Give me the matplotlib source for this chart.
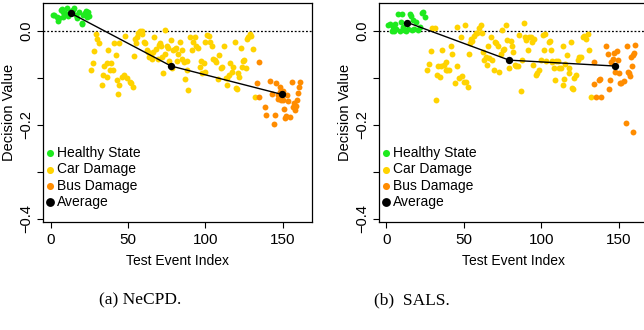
import matplotlib
matplotlib.use("Agg")
import matplotlib.pyplot as plt

# NeCPD panel (a)
necpd_healthy_x = [1.1, 2.2, 3.7, 4.7, 5.4, 6.7, 6.9, 7.5, 8, 9.1, 10.1, 11.2, 12.3, 13, 14, 14.9,
                   16.2, 17, 18.3, 19.9, 20.3, 20.9, 22, 22.7, 23.5, 24.2, 24.8]
necpd_healthy_y = [0.034, 0.033, 0.030, 0.022, 0.027, 0.045, 0.046, 0.040, 0.030, 0.038, 0.048, 0.032,
                   0.039, 0.043, 0.045, 0.048, 0.034, 0.027, 0.041, 0.016, 0.0155, 0.034, 0.039, 0.043,
                   0.030, 0.041, 0.032]
necpd_car_x = [26, 27, 28, 29, 30, 31, 33, 33.5, 34, 36, 36.5, 37, 38, 39, 40, 41, 42, 43, 43.6, 44, 44,
               46, 47, 48, 49, 51, 52, 53, 54, 54.4, 55, 56, 56.5, 57.6, 58.7, 59, 60, 60.6, 62, 63, 63.7,
               64.5, 65.4, 66, 67, 68, 69, 70, 70.6, 71.4, 72, 72.7, 73.8, 74, 75, 75.5, 76.6, 77.5, 78.6,
               79, 80, 80.7, 81.8, 82.5, 83.5, 84.6, 85, 86, 87, 87.8, 88, 89, 90, 91, 92, 93, 94, 95, 96.5,
               97, 98, 99, 99.7, 100, 101, 102.5, 103, 104, 105, 106, 107, 108, 109, 110, 111, 112, 113,
               113.7, 114, 115.5, 116, 117, 117.6, 119, 120, 120.7, 121, 122, 122.8, 123.5, 124, 125, 126,
               127, 127.8, 129, 129.3, 131, 132]
necpd_car_y = [-0.082, -0.069, -0.043, -0.007, -0.016, -0.025, -0.115, -0.094, -0.074, -0.097, -0.069,
               -0.040, -0.083, -0.069, -0.084, -0.025, -0.051, -0.104, -0.134, -0.115, -0.025, -0.097,
               -0.094, -0.011, -0.099, -0.108, -0.110, -0.120, -0.053, -0.018, -0.026, -0.012, -0.005,
               -0.001, -0.001, -0.007, -0.023, -0.025, -0.040, -0.044, -0.055, -0.053, -0.060, -0.044,
               -0.0135, -0.039, -0.060, -0.030, -0.025, -0.032, -0.056, -0.089, 0.002, -0.048, -0.033,
               -0.037, -0.063, -0.019, -0.079, -0.040, -0.039, -0.037, -0.063, -0.048, -0.023, -0.060,
               -0.040, -0.065, -0.103, -0.063, -0.083, -0.126, -0.012, -0.040, -0.023, -0.0135, -0.033,
               -0.037, -0.076, -0.063, -0.090, -0.069, -0.087, -0.023, -0.0085, -0.011, -0.023, -0.033,
               -0.060, -0.062, -0.065, -0.103, -0.051, -0.079, -0.076, -0.033, -0.101, -0.115, -0.101,
               -0.094, -0.069, -0.087, -0.076, -0.023, -0.122, -0.124, -0.090, -0.097, -0.037, -0.076,
               -0.063, -0.062, -0.079, -0.016, -0.012, -0.007, -0.011, -0.039, -0.141]
necpd_bus_x = [133.6, 135, 135, 138.6, 139, 142, 143, 144.4, 145, 146, 147, 147, 148, 148, 149, 149,
               150, 150, 151, 151.5, 152, 152.6, 153.7, 154.8, 156, 157, 157.3, 158, 158.6, 159, 160,
               160.8, 161]
necpd_bus_y = [-0.111, -0.065, -0.141, -0.162, -0.179, -0.106, -0.133, -0.198, -0.179, -0.111, -0.136,
               -0.145, -0.129, -0.120, -0.147, -0.140, -0.127, -0.147, -0.167, -0.186, -0.181, -0.136,
               -0.150, -0.184, -0.108, -0.161, -0.154, -0.168, -0.160, -0.147, -0.131, -0.120, -0.108]
necpd_avg_x = [13, 77.7, 149.6]
necpd_avg_y = [0.0376, -0.0745, -0.135]

# SALS panel (b)
sals_healthy_x = [1.3, 2.4, 3.4, 4.3, 5, 5.6, 6.5, 7.8, 8.6, 9.3, 9.9, 10.8, 11.4, 12.5, 14.2, 15, 15.7,
                  16.4, 17.2, 17.9, 19, 20.7, 21.6, 22.8, 23.7, 25]
sals_healthy_y = [0.013, 0.015, -0.001, 0.009, 0.001, 0.015, 0.0035, 0.036, 0.001, 0.020, 0.036, 0.009,
                  0.002, 0.001, 0.0035, 0.036, 0.032, 0.002, 0.023, 0.0035, 0.020, 0.002, 0.008, 0.039,
                  0.041, 0.030]
sals_car_x = [26.5, 27.2, 28.7, 29.7, 31.5, 32.3, 33, 33.6, 34.5, 35.1, 36.2, 37.3, 38.4, 38.8, 39.4,
              40.5, 41.6, 42.7, 44.4, 45.3, 45.9, 47, 48, 48.7, 50.2, 50.9, 51.7, 52.4, 53.4, 53.9, 54.5,
              55.6, 56.7, 57.8, 58.8, 59.9, 61, 61.6, 62.5, 63.1, 64.2, 65.3, 65.9, 66.4, 67.5, 68.5,
              69.6, 70.3, 71.1, 72, 72.8, 73.9, 75, 75.4, 76.1, 77.2, 78.2, 79.3, 80.4, 81, 81.9, 83.2,
              83.6, 84.7, 85.8, 86.9, 87.9, 89, 89.7, 90.5, 91.2, 92.2, 93.3, 94, 94.8, 95.5, 96.6, 97.6,
              98.7, 99.8, 100.9, 101.9, 102.6, 103.4, 105.2, 105.6, 106.3, 106.9, 107.3, 108.4, 109,
              109.5, 110.6, 111.6, 112.7, 113.8, 114.2, 114.9, 115.5, 116.4, 117.7, 118.1, 119.2, 119.8,
              120.7, 121.3, 122.4, 124.1, 124.6, 125.6, 127.2, 127.8, 128.9, 130, 131, 132.1]
sals_car_y = [-0.083, -0.070, -0.042, 0.006, 0.006, -0.147, -0.094, -0.074, -0.097, -0.074, -0.040,
              -0.072, -0.083, -0.067, -0.084, -0.083, -0.032, -0.048, -0.111, 0.008, -0.074, -0.099,
              -0.012, -0.096, -0.108, 0.013, -0.108, -0.120, -0.048, -0.026, -0.016, -0.021, -0.011,
              -0.005, -0.0035, 0.006, 0.013, -0.005, -0.044, -0.062, -0.056, -0.072, -0.032, -0.058,
              -0.0135, -0.062, -0.083, -0.023, -0.025, -0.032, -0.087, -0.048, 0.002, -0.040, -0.039,
              0.013, -0.019, -0.079, -0.021, -0.033, -0.044, -0.072, -0.074, -0.074, -0.009, -0.127,
              -0.062, 0.016, -0.012, -0.019, -0.040, -0.012, -0.0135, -0.023, -0.072, -0.016, -0.094,
              -0.090, -0.084, -0.062, -0.009, -0.040, -0.006, -0.063, -0.023, -0.021, -0.040, -0.065,
              -0.063, -0.079, -0.104, -0.063, -0.063, -0.079, -0.079, -0.115, -0.033, -0.103, -0.070,
              -0.051, -0.089, -0.079, -0.023, -0.122, -0.124, -0.101, -0.094, -0.062, -0.056, -0.056,
              -0.012, -0.011, -0.018, -0.006, -0.040, -0.141]
sals_bus_x = [134.3, 134.3, 135.3, 137.1, 137.9, 138.6, 141.8, 142.9, 144, 144.4, 145, 146.1, 147.2,
              147.8, 148.7, 149.4, 150.4, 151.1, 151.5, 153.7, 154.7, 155.2, 155.8, 156.5, 157.3, 158,
              158.6, 159, 159.5, 160.1, 160.8]
sals_bus_y = [-0.065, -0.113, -0.140, -0.104, -0.103, -0.140, -0.032, -0.048, -0.124, -0.104, -0.065,
              -0.060, -0.046, -0.087, -0.042, -0.062, -0.090, -0.110, -0.111, -0.106, -0.196, -0.032,
              -0.087, -0.090, -0.096, -0.055, -0.074, -0.214, -0.051, -0.046, -0.030]
sals_avg_x = [13.6, 79.3, 147.4]
sals_avg_y = [0.018, -0.062, -0.0745]

legend_labels = ["Healthy State", "Car Damage", "Bus Damage", "Average"]
captions = ["(a) NeCPD.", "(b)  SALS."]

green = "#1EEA1E"
gold = "#FFD300"
orange = "#FF8C00"

plt.rcParams['font.family'] = ['Liberation Sans', 'DejaVu Sans']

fig = plt.figure(figsize=(6.44, 3.30), dpi=100)
ax1 = fig.add_axes([0.0672, 0.3282, 0.4168, 0.6618])
ax2 = fig.add_axes([0.588, 0.3282, 0.4177, 0.6618])

panels = [
    (ax1, necpd_healthy_x, necpd_healthy_y, necpd_car_x, necpd_car_y, necpd_bus_x, necpd_bus_y,
     necpd_avg_x, necpd_avg_y),
    (ax2, sals_healthy_x, sals_healthy_y, sals_car_x, sals_car_y, sals_bus_x, sals_bus_y,
     sals_avg_x, sals_avg_y),
]

for ax, hx, hy, cx, cy, bx, by, axx, ayy in panels:
    ax.axhline(0, color="black", ls=(0, (1.5, 1.5)), lw=0.9, zorder=1)
    h1 = ax.scatter(hx, hy, s=18, color=green, lw=0, zorder=2)
    h2 = ax.scatter(cx, cy, s=18, color=gold, lw=0, zorder=2)
    h3 = ax.scatter(bx, by, s=18, color=orange, lw=0, zorder=2)
    ax.plot(axx, ayy, color="black", lw=1.0, zorder=3)
    h4 = ax.scatter(axx, ayy, s=28, color="black", lw=0, zorder=4)

    ax.set_xlim(-5, 168.8)
    ax.set_ylim(-0.4057, 0.0589)
    ax.set_xticks([0, 50, 100, 150])
    ax.set_yticks([0.0, -0.1, -0.2, -0.3, -0.4])
    ax.set_yticklabels(["0.0", "", "\u22120.2", "", "\u22120.4"], rotation=90, va="center")
    ax.tick_params(labelsize=11, length=4.5, width=0.8)
    ax.tick_params(axis="y", labelsize=10.5, pad=2.5)
    ax.tick_params(axis="x", pad=4)
    for sp in ax.spines.values():
        sp.set_linewidth(0.9)

    ax.set_xlabel("Test Event Index", fontsize=10)
    ax.set_ylabel("Decision Value", fontsize=10.5)
    ax.xaxis.set_label_coords(0.5, -0.148)
    ax.yaxis.set_label_coords(-0.1, 0.5)

    ax.legend([h1, h2, h3, h4], legend_labels, loc="lower left", bbox_to_anchor=(0.0, 0.045),
              frameon=False, fontsize=10, handlelength=0.6, handletextpad=0.2,
              labelspacing=0.17, borderaxespad=0, borderpad=0.2, markerscale=1.2)

fig.text(140 / 644, 1 - 300 / 330, captions[0], ha="center", va="center",
         fontsize=12.5, family="Liberation Serif")
fig.text(412 / 644, 1 - 300 / 330, captions[1], ha="center", va="center",
         fontsize=12.5, family="Liberation Serif")

fig.savefig("out.png", dpi=100)
